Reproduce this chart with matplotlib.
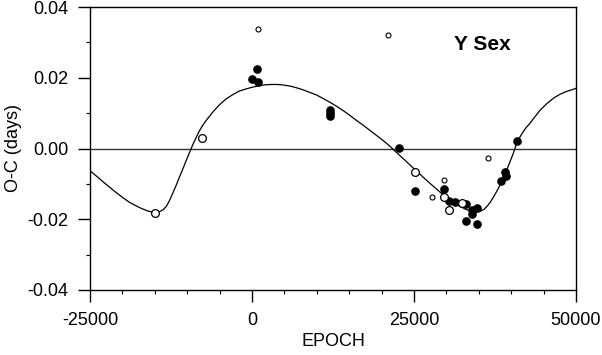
import matplotlib
matplotlib.use("Agg")
import matplotlib.pyplot as plt
from matplotlib.ticker import MultipleLocator

plt.rcParams['font.family'] = ['Liberation Sans', 'DejaVu Sans']
plt.rcParams['axes.unicode_minus'] = False

# filled circles
filled_epoch = [43, 815, 875, 12100, 12100, 12100, 22730, 25150, 29670, 30440,
                31320, 32970, 33890, 34660, 33890, 32970, 34760, 38360, 39030,
                39140, 40930]
filled_oc = [0.0196, 0.0224, 0.0189, 0.0108, 0.0100, 0.0092, 0.0002, -0.0120,
             -0.0114, -0.0148, -0.0150, -0.0157, -0.0174, -0.0167, -0.0185,
             -0.0205, -0.0214, -0.0092, -0.0066, -0.0078, 0.0021]

# large open circles
open_epoch = [-15000, -7720, 25190, 29580, 30390, 32450]
open_oc = [-0.0182, 0.0029, -0.0066, -0.0136, -0.0174, -0.0155]

# small open circles
small_epoch = [970, 20930, 36460, 29670, 27720]
small_oc = [0.0337, 0.0320, -0.0028, -0.0089, -0.0138]

# fitted curve
fit_epoch = [-25000, -24000, -23000, -22000, -21000, -20000, -19000, -18000,
             -17000, -16000, -15300, -14700, -14200, -13700, -13200, -12700,
             -12200, -11700, -11200, -10700, -10200, -9700, -9200, -8700,
             -8200, -7700, -7000, -6000, -5000, -4000, -3000, -2000, -1000,
             0, 1000, 2000, 3000, 4000, 5000, 6000, 7000, 8000, 9000, 10000,
             11000, 12000, 13000, 14000, 15000, 16000, 17000, 18000, 19000,
             20000, 21000, 22000, 23000, 24000, 25000, 26000, 27000, 28000,
             29000, 30000, 31000, 32000, 33000, 34000, 34700, 35300, 35800,
             36300, 36800, 37300, 37800, 38300, 38800, 39300, 39800, 40300,
             40800, 41300, 41800, 42300, 42800, 43500, 44500, 45500, 46500,
             47500, 48500, 49500, 50000]
fit_oc = [-0.0063, -0.0078, -0.0094, -0.0109, -0.0124, -0.0138, -0.0151,
          -0.0161, -0.0170, -0.0177, -0.0180, -0.0180, -0.0178, -0.0173,
          -0.0163, -0.0146, -0.0125, -0.0104, -0.0081, -0.0059, -0.0036,
          -0.0014, 0.0008, 0.0028, 0.0047, 0.0063, 0.0081, 0.0104, 0.0124,
          0.0140, 0.0152, 0.0162, 0.0168, 0.0173, 0.0177, 0.0180, 0.0181,
          0.0181, 0.0179, 0.0176, 0.0171, 0.0165, 0.0158, 0.0151, 0.0141,
          0.0131, 0.0120, 0.0108, 0.0095, 0.0081, 0.0068, 0.0054, 0.0040,
          0.0026, 0.0011, -0.0006, -0.0023, -0.0040, -0.0057, -0.0074,
          -0.0091, -0.0107, -0.0123, -0.0138, -0.0151, -0.0163, -0.0172,
          -0.0178, -0.0179, -0.0177, -0.0172, -0.0163, -0.0151, -0.0136,
          -0.0120, -0.0102, -0.0082, -0.0061, -0.0038, -0.0015, 0.0013,
          0.0031, 0.0046, 0.0059, 0.0069, 0.0086, 0.0109, 0.0127, 0.0142,
          0.0153, 0.0161, 0.0167, 0.0170]

fig = plt.figure(figsize=(6.02, 3.55), dpi=100)
ax = fig.add_axes([90 / 602, 65 / 355, 486 / 602, 283 / 355])

ax.axhline(0, color='#333333', lw=1.0, zorder=1)
ax.plot(fit_epoch, fit_oc, color='black', lw=0.9, zorder=2)

ax.plot(filled_epoch, filled_oc, 'o', ms=5.2, mfc='black', mec='black', zorder=3)
ax.plot(open_epoch, open_oc, 'o', ms=5.6, mfc='white', mec='black', mew=0.9, zorder=3)
ax.plot(small_epoch, small_oc, 'o', ms=3.6, mfc='white', mec='black', mew=0.8, zorder=3)

ax.set_xlim(-25000, 50000)
ax.set_ylim(-0.04, 0.04)
ax.xaxis.set_major_locator(MultipleLocator(25000))
ax.xaxis.set_minor_locator(MultipleLocator(5000))
ax.yaxis.set_major_locator(MultipleLocator(0.02))
ax.yaxis.set_minor_locator(MultipleLocator(0.01))
ax.yaxis.set_major_formatter(plt.FormatStrFormatter('%.2f'))

ax.tick_params(which='major', direction='out', length=8.6, width=1.0,
               labelsize=13, pad=7)
ax.tick_params(which='minor', direction='out', length=3, width=0.8)
for s in ax.spines.values():
    s.set_linewidth(1.0)

ax.set_xlabel('EPOCH', fontsize=13, labelpad=3)
ax.set_ylabel('O-C (days)', fontsize=13, labelpad=4)

ax.text(0.807, 0.867, 'Y Sex', transform=ax.transAxes, fontsize=15,
        fontweight='bold', ha='center', va='center')

fig.savefig('out.png', dpi=100)
